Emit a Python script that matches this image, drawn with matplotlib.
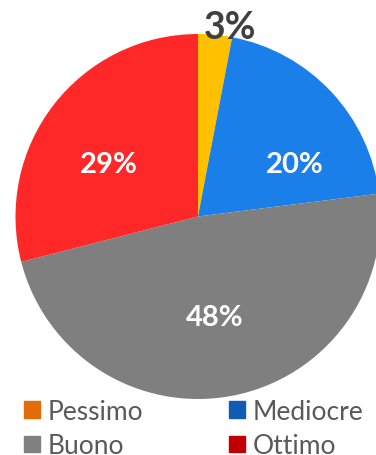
import matplotlib.pyplot as plt
from matplotlib.patches import Patch

categories = ["Pessimo", "Mediocre", "Buono", "Ottimo"]
values = [3, 20, 48, 29]
slice_colors = ["#FFC000", "#1A7FE8", "#7F7F7F", "#FF2828"]
legend_colors = ["#E36C09", "#0F5CB5", "#808080", "#C00000"]

plt.rcParams['font.family'] = ['Lato', 'DejaVu Sans']

fig = plt.figure(figsize=(3.76, 4.56), dpi=100)
ax = fig.add_axes([15.5 / 376, 56 / 456, 365 / 376, 365 / 456])

wedges, texts, autotexts = ax.pie(values, colors=slice_colors, startangle=90,
                                  counterclock=False, radius=1,
                                  autopct='%1.0f%%', pctdistance=0.57,
                                  wedgeprops=dict(linewidth=0))
ax.set_xlim(-1, 1)
ax.set_ylim(-1, 1)
ax.set_aspect('equal')
ax.axis('off')

for t in autotexts:
    t.set_color('white')
    t.set_fontsize(21)
    t.set_fontweight('bold')

# label spots as Excel placed them (radius = 1)
label_pos = [(0.175, 1.04), (0.53, 0.29), (0.09, -0.55), (-0.49, 0.29)]
for t, p in zip(autotexts, label_pos):
    t.set_position(p)

# small slice label sits outside on the rim
autotexts[0].set_color('#404040')
autotexts[0].set_fontsize(27)

handles = [Patch(color=c) for c in legend_colors]
order = [0, 2, 1, 3]
fig.legend([handles[i] for i in order], [categories[i] for i in order],
           ncol=2, loc='upper left', bbox_to_anchor=(24 / 376, 1 - 400 / 456),
           frameon=False, borderpad=0, borderaxespad=0,
           handlelength=0.6, handleheight=0.6, handletextpad=0.3,
           labelspacing=0.35, columnspacing=3.25,
           prop={'size': 19}, labelcolor='#595959')

fig.savefig("out.png", dpi=100)
